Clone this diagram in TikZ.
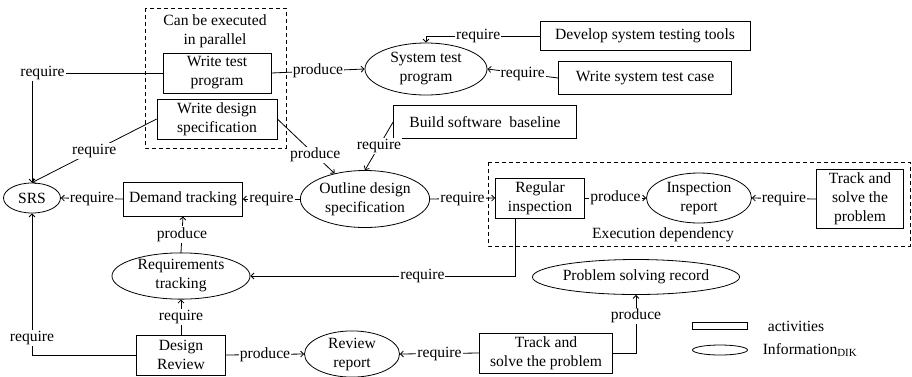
\documentclass[tikz,border=0pt]{standalone}
\usepackage{fontspec}
\setmainfont{Liberation Serif}
\usetikzlibrary{shapes.geometric, arrows.meta}

\tikzset{
 act/.style={draw, rectangle, inner sep=0pt, align=center},
 info/.style={draw, ellipse, inner sep=0pt, align=center},
 lbl/.style={fill=white, inner sep=1pt},
 group/.style={dash pattern=on 4pt off 3pt},
}

\begin{document}
\begin{tikzpicture}[x=1pt, y=-1pt, line width=0.8pt, >={Straight Barb[length=3pt,width=6pt]}, font=\fontsize{15.6}{19}\selectfont]
 \useasboundingbox (0,0) rectangle (912,376);

 %点線の枠
 \draw[group] (145,8) rectangle (286,148);
 \node[align=center] (par) at (215,31) {Can be executed\\in parallel};
 \draw[group] (488,162) rectangle (910,246);
 \node (dep) at (663,235) {Execution dependency};

 \node[act, minimum width=108, minimum height=40] (wtest) at (217,73) {Write test\\program};
 \node[act, minimum width=120, minimum height=40] (wdesign) at (217,119) {Write design\\specification};
 \node[info, minimum width=122, minimum height=52] (systest) at (426,69) {System test\\program};
 \node[act, minimum width=210, minimum height=29] (devtools) at (645,36) {Develop system testing tools};
 \node[act, minimum width=173, minimum height=33] (wcase) at (645,78) {Write system test case};
 \node[act, minimum width=183, minimum height=33] (baseline) at (485,122) {Build software\ \ baseline};

 \node[info, minimum width=57, minimum height=30] (srs) at (32,198) {SRS};
 \node[act, minimum width=119, minimum height=34] (demand) at (183,199) {Demand tracking};
 \node[info, minimum width=120, minimum height=57] (outline) at (365,199) {Outline design\\specification};
 \node[act, minimum width=89, minimum height=40] (regular) at (540,198) {Regular\\inspection};
 \node[info, minimum width=105, minimum height=50] (inspect) at (699,198) {Inspection\\report};
 \node[act, minimum width=87, minimum height=59] (trackA) at (860,199) {Track and\\solve the\\problem};

 \node[info, minimum width=138, minimum height=38] (reqtrack) at (181,276) {Requirements\\tracking};
 \node[info, minimum width=202, minimum height=35] (record) at (636,277) {Problem solving record};
 \node[act, minimum width=89, minimum height=40] (review) at (181,355) {Design\\Review};
 \node[info, minimum width=95, minimum height=40] (rreport) at (352,354) {Review\\report};
 \node[act, minimum width=133, minimum height=40] (trackB) at (546,353) {Track and\\solve the problem};

 %凡例
 \node[act, minimum width=55, minimum height=7] (legA) at (720,326) {};
 \node (legAt) at (796,326) {activities};
 \node[info, minimum width=55, minimum height=10] (legB) at (720,350) {};
 \node (legBt) at (810,350) {Information\textsubscript{DIK}};

 \draw[->] (wtest.west) -| node[lbl, pos=0.46] {require} (srs.north);
 \draw[->] (wdesign.west) -- node[lbl] {require} (srs.north);
 \draw[->] (wtest.east) -- node[lbl] {produce} (systest.west);
 \draw[->] (wdesign.east) -- node[lbl, pos=0.66] {produce} (outline.140);
 \draw[->] (devtools.west) -| node[lbl, pos=0.27] {require} (systest.north);
 \draw[->] (wcase.west) -- node[lbl] {require} (systest.east);
 \draw[->] (baseline.west) -- node[lbl] {require} (outline.north);

 \draw[->] (demand.west) -- node[lbl] {require} (srs.east);
 \draw[->] (outline.west) -- node[lbl] {require} (demand.east);
 \draw[->] (outline.east) -- node[lbl] {require} (regular.west);
 \draw[->] (regular.east) -- node[lbl] {produce} (inspect.west);
 \draw[->] (trackA.west) -- node[lbl] {require} (inspect.east);

 \draw[->] ([xshift=-25pt]regular.south) |- node[lbl, pos=0.675] {require} (reqtrack.east);
 \draw[->] (reqtrack.north) -- node[lbl] {produce} (demand.south);
 \draw[->] (review.north) -- node[lbl] {require} (reqtrack.south);
 \draw[->] (review.west) -| node[lbl, pos=0.56] {require} (srs.south);
 \draw[->] (review.east) -- node[lbl] {produce} (rreport.west);
 \draw[->] (trackB.west) -- node[lbl] {require} (rreport.east);
 \draw[->] (trackB.east) -| node[lbl, pos=0.82] {produce} (record.south);
\end{tikzpicture}
\end{document}
